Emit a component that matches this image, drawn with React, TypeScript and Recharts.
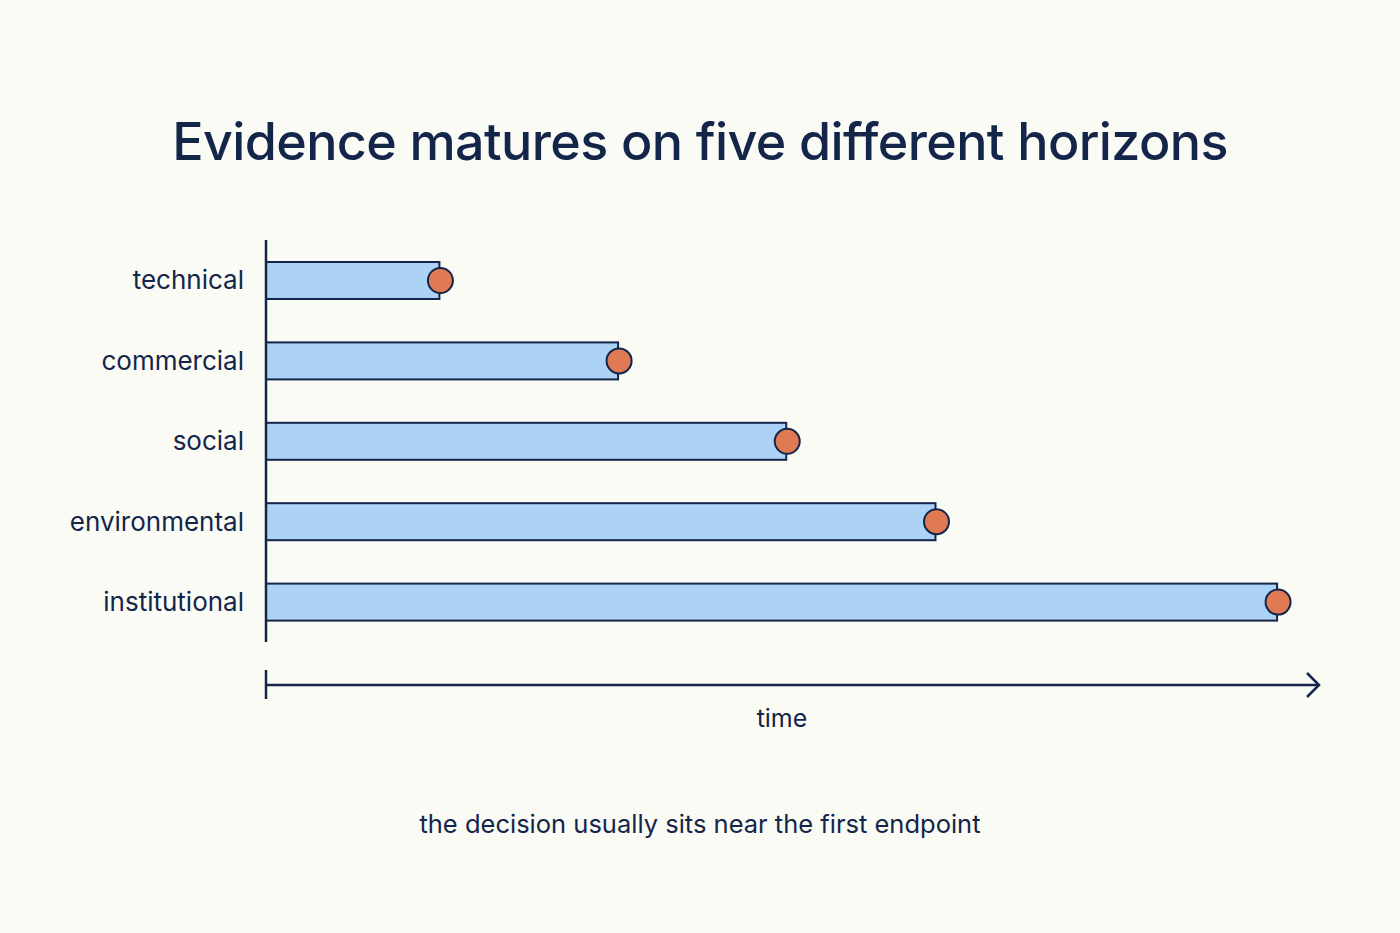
import { BarChart, Bar, XAxis, YAxis } from "recharts";

// categories, top to bottom
const horizons = ["technical", "commercial", "social", "environmental", "institutional"];
// when each kind of evidence matures (relative time, 0–100)
const maturity = [16.5, 33.5, 49.5, 63.7, 96.2];

const title = "Evidence matures on five different horizons";
const axisLabel = "time";
const note = "the decision usually sits near the first endpoint";

const data = horizons.map((h, i) => ({ horizon: h, t: maturity[i] }));

const INK = "#14254a";
const BAR = "#acd2f5";
const DOT = "#e07a55";
const BG = "#fbfbf6";
const FONT = "Inter, 'Noto Sans', sans-serif";

// bar with the endpoint dot sitting on its right edge
function HorizonBar(props: any) {
  const { x, y, width, height } = props;
  return (
    <g>
      <rect x={x} y={y} width={width} height={height} fill={BAR} stroke={INK} strokeWidth={2} />
      <circle cx={x + width + 1} cy={y + height / 2} r={12.5} fill={DOT} stroke={INK} strokeWidth={2} />
    </g>
  );
}

export default function App() {
  return (
    <div
      style={{
        position: "absolute",
        left: 0,
        top: 0,
        width: 1400,
        height: 933,
        background: BG,
        fontFamily: FONT,
        color: INK,
        overflow: "hidden",
      }}
    >
      <div
        style={{
          position: "absolute",
          top: 110,
          width: 1400,
          textAlign: "center",
          fontSize: 52,
          fontWeight: 500,
          letterSpacing: -0.6,
        }}
      >
        {title}
      </div>

      <div style={{ position: "absolute", left: 0, top: 0 }}>
        <BarChart
          width={1400}
          height={933}
          data={data}
          layout="vertical"
          margin={{ top: 240, right: 83, bottom: 291, left: 0 }}
          barCategoryGap={0}
        >
          <XAxis type="number" domain={[0, 100]} hide />
          <YAxis
            type="category"
            dataKey="horizon"
            width={266}
            tickLine={false}
            tickSize={0}
            tickMargin={22}
            axisLine={{ stroke: INK, strokeWidth: 2.5 }}
            tick={{ fill: INK, fontSize: 26, fontFamily: FONT }}
          />
          <Bar dataKey="t" barSize={37} shape={HorizonBar} isAnimationActive={false} />
        </BarChart>
      </div>

      <svg style={{ position: "absolute", left: 0, top: 0 }} width={1400} height={933}>
        <line x1={266} y1={670} x2={266} y2={699} stroke={INK} strokeWidth={2.5} />
        <line x1={266} y1={685} x2={1319} y2={685} stroke={INK} strokeWidth={2.5} />
        <polyline points="1307,673 1319,685 1307,697" fill="none" stroke={INK} strokeWidth={2.5} />
      </svg>

      <div style={{ position: "absolute", top: 703, left: 682, width: 200, textAlign: "center", fontSize: 25 }}>
        {axisLabel}
      </div>
      <div style={{ position: "absolute", top: 808, width: 1400, textAlign: "center", fontSize: 25.5 }}>
        {note}
      </div>
    </div>
  );
}
